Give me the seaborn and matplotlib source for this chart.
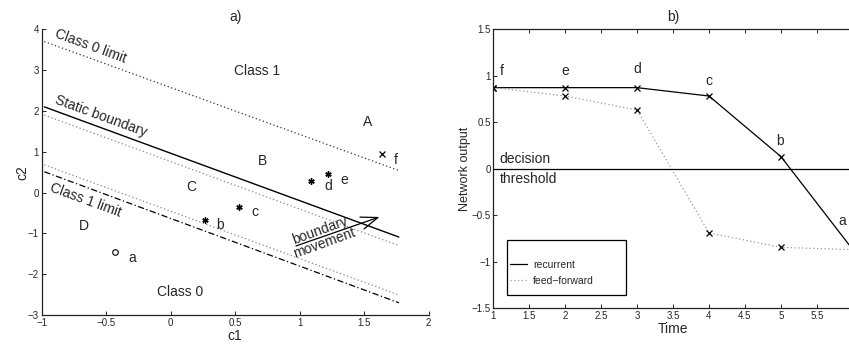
import numpy as np
import pandas as pd
import matplotlib
matplotlib.use("Agg")
import matplotlib.pyplot as plt
from matplotlib.patches import Rectangle
import seaborn as sns

# ---------------- data: panel a) ----------------
line_x = [-0.98, 1.77]
class0_limit_y = [3.70, 0.54]
static_boundary_y = [2.10, -1.09]
gray_upper_y = [1.90, -1.30]
gray_lower_y = [0.68, -2.51]
class1_limit_y = [0.51, -2.70]

point_labels = ["a", "b", "c", "d", "e", "f"]
point_c1 = [-0.43, 0.266, 0.533, 1.09, 1.224, 1.643]
point_c2 = [-1.466, -0.67, -0.346, 0.283, 0.455, 0.94]
point_marker = ["o", "*", "*", "*", "*", "x"]
label_c1 = [-0.30, 0.38, 0.655, 1.22, 1.35, 1.75]
label_c2 = [-1.60, -0.80, -0.47, 0.17, 0.31, 0.80]

region_labels = ["A", "B", "C", "D", "Class 1", "Class 0"]
region_c1 = [1.53, 0.71, 0.16, -0.67, 0.67, 0.07]
region_c2 = [1.72, 0.77, 0.14, -0.82, 2.99, -2.43]

# ---------------- data: panel b) ----------------
time = [1, 2, 3, 4, 5, 6]
recurrent = [0.87, 0.87, 0.87, 0.78, 0.13, -0.87]
feed_forward = [0.87, 0.78, 0.63, -0.69, -0.845, -0.87]
time_labels = ["f", "e", "d", "c", "b", "a"]
tlabel_x = [1.12, 2.0, 3.0, 4.0, 4.99, 5.85]
tlabel_y = [1.05, 1.05, 1.07, 0.94, 0.30, -0.56]

sns.set_style("ticks")
plt.rcParams["font.family"] = ["Liberation Sans", "DejaVu Sans"]
plt.rcParams["axes.unicode_minus"] = True
plt.rcParams["xtick.direction"] = "in"
plt.rcParams["ytick.direction"] = "in"

W, H = 849, 347
fig = plt.figure(figsize=(W / 100, H / 100), dpi=100)

def frac(l, r, t, b):
    return [l / W, 1 - b / H, (r - l) / W, (b - t) / H]

axA = fig.add_axes(frac(41.7, 428.5, 29.3, 315))
axB = fig.add_axes(frac(493.3, 852.8, 29.0, 308.3))

lw = 0.9
asterisk = (6, 2, 0)
# ---------- panel a ----------
sns.lineplot(x=line_x, y=class0_limit_y, ax=axA, color="#333333", lw=lw, linestyle=(0, (1, 2)))
sns.lineplot(x=line_x, y=static_boundary_y, ax=axA, color="black", lw=1.0)
sns.lineplot(x=line_x, y=gray_upper_y, ax=axA, color="#888888", lw=lw, linestyle=(0, (1, 2)))
sns.lineplot(x=line_x, y=gray_lower_y, ax=axA, color="#888888", lw=lw, linestyle=(0, (1, 2)))
sns.lineplot(x=line_x, y=class1_limit_y, ax=axA, color="black", lw=lw, linestyle=(0, (5, 2, 1, 2)))

for x, y, m in zip(point_c1, point_c2, point_marker):
    if m == "o":
        axA.plot(x, y, marker="o", ms=4, mfc="white", mec="black", mew=0.8, ls="none")
    elif m == "*":
        axA.plot(x, y, marker=asterisk, ms=4.5, mec="black", mew=1.0, ls="none")
    else:
        axA.plot(x, y, marker="x", ms=4.5, mec="black", mew=0.9, ls="none")
for t, x, y in zip(point_labels, label_c1, label_c2):
    axA.text(x, y, t, fontsize=10, ha="center", va="center")
for t, x, y in zip(region_labels, region_c1, region_c2):
    axA.text(x, y, t, fontsize=10, ha="center", va="center")

rot = -20.2
axA.text(-0.915, 3.74, "Class 0 limit", fontsize=10, rotation=rot, rotation_mode="anchor",
         ha="left", va="bottom")
axA.text(-0.915, 2.11, "Static boundary", fontsize=10, rotation=rot, rotation_mode="anchor",
         ha="left", va="bottom")
axA.text(-0.915, 0.30, "Class 1 limit", fontsize=10, rotation=rot, rotation_mode="anchor",
         ha="left", va="top")
axA.annotate("", xy=(1.64, -0.576), xytext=(0.952, -1.33),
             arrowprops=dict(arrowstyle="->,head_length=1.2,head_width=0.45", color="black", lw=0.9))
axA.text(1.16, -0.92, "boundary", fontsize=10, rotation=20, ha="center", va="center",
         rotation_mode="anchor")
axA.text(1.19, -1.25, "movement", fontsize=10, rotation=20, ha="center", va="center",
         rotation_mode="anchor")

axA.set_xlim(-1, 2)
axA.set_ylim(-3, 4)
axA.set_xticks(np.arange(-1, 2.01, 0.5))
axA.set_xticklabels(["\u22121", "\u22120.5", "0", "0.5", "1", "1.5", "2"])
axA.set_yticks(range(-3, 5))
axA.set_yticklabels(["\u22123", "\u22122", "\u22121", "0", "1", "2", "3", "4"])
axA.set_xlabel("c1", fontsize=10, labelpad=1)
axA.set_ylabel("c2", fontsize=10, labelpad=-1)
axA.set_title("a)", fontsize=10, pad=6)
sns.despine(ax=axA)

# ---------- panel b ----------
df = pd.DataFrame({"time": time, "recurrent": recurrent, "feed_forward": feed_forward})
sns.lineplot(data=df, x="time", y="recurrent", ax=axB, color="black", lw=0.9,
             marker="x", ms=5, mew=0.9, mec="black", label="recurrent")
sns.lineplot(data=df, x="time", y="feed_forward", ax=axB, color="#999999", lw=0.9,
             linestyle=(0, (1, 2)), marker="x", ms=5, mew=0.9, mec="black",
             label="feed\u2212forward")
axB.axhline(0, color="black", lw=0.9)
for t, x, y in zip(time_labels, tlabel_x, tlabel_y):
    axB.text(x, y, t, fontsize=10, ha="center", va="center")
axB.text(1.09, 0.10, "decision", fontsize=10, ha="left", va="center")
axB.text(1.09, -0.11, "threshold", fontsize=10, ha="left", va="center")

axB.set_xlim(1, 6)
axB.set_ylim(-1.5, 1.5)
axB.set_xticks(np.arange(1, 6.01, 0.5))
axB.set_xticklabels(["1", "1.5", "2", "2.5", "3", "3.5", "4", "4.5", "5", "5.5", ""])
axB.set_yticks(np.arange(-1.5, 1.51, 0.5))
axB.set_yticklabels(["\u22121.5", "\u22121", "\u22120.5", "0", "0.5", "1", "1.5"])
axB.set_xlabel("Time", fontsize=10, labelpad=1)
axB.set_ylabel("Network output", fontsize=9, labelpad=0)
axB.set_title("b)", fontsize=10, pad=6)
axB.tick_params(top=True, right=True, direction="in")
leg = axB.legend(loc="center left", bbox_to_anchor=(0.037, 0.127), borderaxespad=0,
                 fontsize=7.5, frameon=False, handlelength=1.6,
                 borderpad=0.35, labelspacing=0.55, handletextpad=0.6)
for h in leg.legend_handles:
    h.set_marker("")
axB.add_patch(Rectangle((0.0373, 0.0476), 0.3317, 0.197, transform=axB.transAxes,
                        fill=True, facecolor="white", edgecolor="black", lw=0.9, zorder=4.5))
leg.set_zorder(5)

for ax in (axA, axB):
    ax.tick_params(labelsize=7, length=3, width=0.7, pad=2)
    for s in ax.spines.values():
        s.set_linewidth(0.9)
        s.set_color("#222222")

fig.savefig("out.png", dpi=100)
